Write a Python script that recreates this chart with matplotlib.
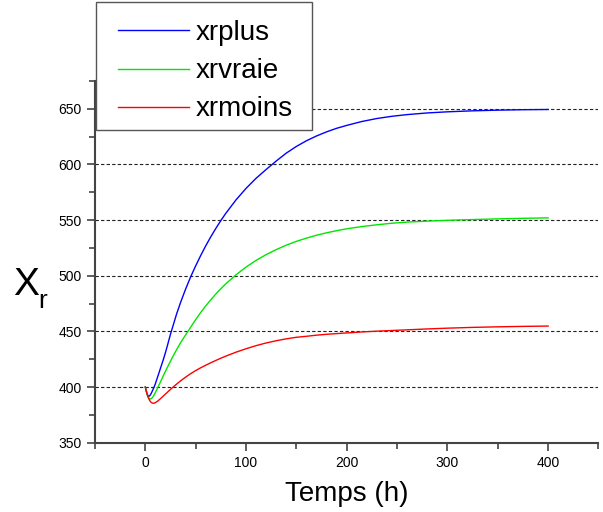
import matplotlib
matplotlib.use('Agg')
import matplotlib.pyplot as plt
from matplotlib.patches import Rectangle
from matplotlib.ticker import MultipleLocator

plt.rcParams['font.family'] = ['Liberation Sans', 'DejaVu Sans']

# temps (h)
temps = [0, 1, 2, 3, 4, 5, 6, 7, 8, 9, 10, 12, 14, 16, 18, 20, 22, 25, 28, 31,
         35, 40, 45, 50, 55, 60, 65, 70, 75, 80, 90, 100, 110, 120, 130, 140,
         150, 160, 170, 180, 190, 200, 215, 230, 245, 260, 280, 300, 325, 350,
         375, 400]

xrplus = [400, 396.2, 393.3, 391.9, 391.8, 392.9, 394.6, 396.5, 398.6, 400.6,
          403, 408.5, 414, 419.5, 425, 431, 437.5, 447.5, 456.5, 465.5, 476,
          488, 499, 508.9, 518.2, 526.9, 535, 542.5, 549.6, 556.2, 568.1, 578.5,
          587.6, 595.5, 603.1, 610.2, 616.2, 621.3, 625.6, 629.3, 632.5, 635.1,
          638.6, 641.3, 643.3, 644.8, 646.3, 647.3, 648.2, 648.8, 649.2, 649.4]

xrvraie = [400, 396.2, 392.8, 390.6, 389.5, 389.2, 389.6, 390.5, 391.8, 393.4,
           395.1, 398.8, 402.6, 406.5, 410.4, 414.2, 417.9, 423.3, 428.5, 433.5,
           439.8, 446.8, 453.7, 460.6, 467, 472.9, 478.4, 483.6, 488.3, 492.8,
           500.8, 507.8, 513.8, 519, 523.5, 527.5, 530.9, 533.8, 536.4, 538.6,
           540.5, 542.2, 544.2, 545.8, 547.2, 548.2, 549.1, 549.8, 550.5, 551.1,
           551.6, 552]

xrmoins = [400, 396.2, 393, 390.4, 388.5, 387, 386.1, 385.6, 385.4, 385.6, 386,
           387.2, 388.7, 390.3, 392, 393.7, 395.4, 397.9, 400.3, 402.6, 405.5,
           408.9, 412, 414.8, 417.3, 419.6, 421.8, 423.9, 425.9, 427.8, 431.3,
           434.4, 437.2, 439.6, 441.6, 443.3, 444.7, 445.6, 446.6, 447.4, 448,
           448.6, 449.5, 450.2, 450.8, 451.4, 452.2, 452.9, 453.6, 454.1, 454.5,
           454.8]

fig = plt.figure(figsize=(6.03, 5.12), dpi=100)
ax = fig.add_axes([0.1575, 0.1354, 0.835, 0.7064])

l1, = ax.plot(temps, xrplus, color='#0000ff', lw=1.0)
l2, = ax.plot(temps, xrvraie, color='#00e600', lw=1.0)
l3, = ax.plot(temps, xrmoins, color='#ff0000', lw=1.0)

ax.set_xlim(-50, 450)
ax.set_ylim(350, 675)
ax.xaxis.set_major_locator(MultipleLocator(100))
ax.xaxis.set_minor_locator(MultipleLocator(50))
ax.yaxis.set_major_locator(MultipleLocator(50))
ax.yaxis.set_minor_locator(MultipleLocator(25))

ax.grid(axis='y', which='major', color='#222222', linestyle=(0, (3, 2)), lw=0.8)
ax.set_axisbelow(True)

for s in ['top', 'right']:
    ax.spines[s].set_visible(False)
for s in ['left', 'bottom']:
    ax.spines[s].set_color('#444444')
    ax.spines[s].set_linewidth(1.5)

ax.tick_params(which='major', length=6, width=1.2, color='#444444', labelsize=10, direction='out')
ax.tick_params(which='minor', length=4, width=1.2, color='#444444', direction='out')

ax.set_xlabel('Temps (h)', fontsize=20, labelpad=8)
ax.set_ylabel('X', fontsize=28, rotation=0, ha='center', va='baseline')
ax.yaxis.set_label_coords(-0.136, 0.408)
fig.text(38 / 603, 1 - 308 / 512, 'r', fontsize=19, ha='left', va='baseline')

# legend box
box = Rectangle((96 / 603, 1 - 130 / 512), 216 / 603, 128 / 512,
                transform=fig.transFigure, facecolor='white',
                edgecolor='#555555', lw=1.0, zorder=4)
fig.add_artist(box)
leg = fig.legend([l1, l2, l3], ['xrplus', 'xrvraie', 'xrmoins'],
                 loc='upper left', bbox_to_anchor=(118 / 603, 1 - 20 / 512),
                 fontsize=20, frameon=False, handlelength=2.56,
                 handletextpad=0.25, labelspacing=0.44, borderpad=0,
                 borderaxespad=0)
leg.set_zorder(5)

fig.savefig('out.png', dpi=100)
